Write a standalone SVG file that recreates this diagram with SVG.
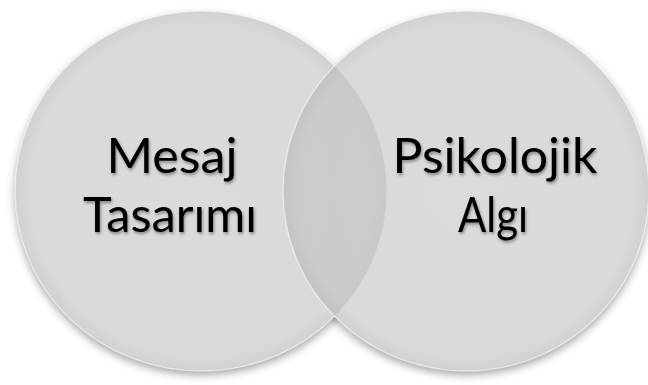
<svg xmlns="http://www.w3.org/2000/svg" width="648" height="385" viewBox="0 0 648 385">
  <defs>
    <radialGradient id="disc" cx="0.5" cy="0.5" r="0.5">
      <stop offset="0" stop-color="#c6c6c6"/>
      <stop offset="0.92" stop-color="#c3c3c3"/>
      <stop offset="1" stop-color="#b6b6b6"/>
    </radialGradient>
    <filter id="soft" x="-10%" y="-10%" width="120%" height="125%">
      <feGaussianBlur stdDeviation="4"/>
    </filter>
    <filter id="textShade" x="-10%" y="-20%" width="120%" height="150%">
      <feGaussianBlur in="SourceAlpha" stdDeviation="1.5"/>
      <feOffset dx="1" dy="2" result="b"/>
      <feComponentTransfer in="b" result="s">
        <feFuncA type="linear" slope="0.4"/>
      </feComponentTransfer>
      <feMerge>
        <feMergeNode in="s"/>
        <feMergeNode in="SourceGraphic"/>
      </feMerge>
    </filter>
  </defs>
  <style>
    .shadow { fill: #000000; fill-opacity: 0.35; }
    .base { fill: #ffffff; }
    .disc { fill: url(#disc); fill-opacity: 0.63; stroke: #ffffff; stroke-opacity: 0.5; stroke-width: 1.5; }
    .label { font-family: Lato, "Open Sans", "Noto Sans", sans-serif; font-size: 49px; fill: #000000; text-anchor: middle; }
  </style>
  <rect width="648" height="385" fill="#ffffff"/>

  <!-- soft drop shadow under both discs, then an opaque white base so it shows only outside -->
  <g filter="url(#soft)">
    <ellipse class="shadow" cx="201" cy="195" rx="186" ry="180"/>
    <ellipse class="shadow" cx="466" cy="195" rx="183" ry="180"/>
  </g>
  <ellipse class="base" cx="201" cy="191" rx="186" ry="180"/>
  <ellipse class="base" cx="466" cy="191" rx="183" ry="180"/>

  <g id="mesaj-tasarimi">
    <ellipse class="disc" cx="201" cy="191" rx="186" ry="180"/>
  </g>
  <g id="psikolojik-algi">
    <ellipse class="disc" cx="466" cy="191" rx="183" ry="180"/>
  </g>

  <g id="labels" filter="url(#textShade)">
    <text class="label" x="172" y="173" textLength="131" lengthAdjust="spacingAndGlyphs">Mesaj</text>
    <text class="label" x="170" y="232" textLength="174" lengthAdjust="spacingAndGlyphs">Tasarımı</text>
    <text class="label" x="495" y="173" textLength="205" lengthAdjust="spacingAndGlyphs">Psikolojik</text>
    <text class="label" x="493" y="232" textLength="70" lengthAdjust="spacingAndGlyphs">Algı</text>
  </g>
</svg>
